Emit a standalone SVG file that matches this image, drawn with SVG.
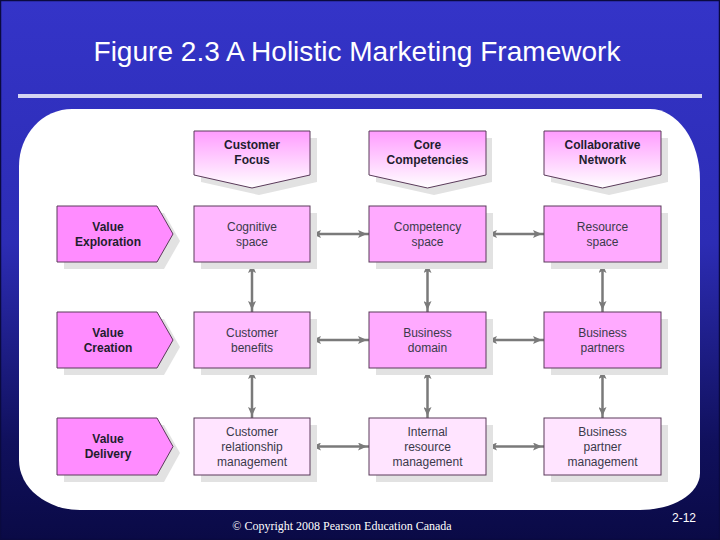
<svg xmlns="http://www.w3.org/2000/svg" width="720" height="540" viewBox="0 0 720 540">
<defs>
<linearGradient id="bg" x1="0" y1="0" x2="0" y2="1">
<stop offset="0" stop-color="#3434c8"/>
<stop offset="0.45" stop-color="#2c2cb4"/>
<stop offset="0.82" stop-color="#10105c"/>
<stop offset="1" stop-color="#0a0a46"/>
</linearGradient>
<linearGradient id="hdr" x1="0" y1="0" x2="0" y2="1">
<stop offset="0" stop-color="#ff9cff"/>
<stop offset="1" stop-color="#ffffff"/>
</linearGradient>
<marker id="ah" viewBox="0 0 12 8" refX="11" refY="4" markerWidth="12" markerHeight="8" markerUnits="userSpaceOnUse" orient="auto-start-reverse">
<path d="M0,0 L9,4 L0,8 L2,4 z" fill="#7a7a7a"/>
</marker>
<style>
.shadow{fill:#e2e2e2}
.box{stroke:#5a3a5a;stroke-width:1}
.lbl{font-family:"Liberation Sans",Arial,sans-serif;font-size:12px;font-weight:bold;fill:#1e1e2e;text-anchor:middle}
.txt{font-family:"Liberation Sans",Arial,sans-serif;font-size:12px;fill:#3a3a4a;text-anchor:middle}
.con line{stroke:#7a7a7a;stroke-width:2.5;marker-start:url(#ah);marker-end:url(#ah)}
</style>
</defs>
<rect x="0" y="0" width="720" height="540" fill="url(#bg)"/>
<rect x="0.5" y="0.5" width="719" height="539" fill="none" stroke="#0a0a40" stroke-width="1.5"/>
<text x="357" y="61" font-family="Liberation Sans,Arial,sans-serif" font-size="28" fill="#ffffff" text-anchor="middle" textLength="527" lengthAdjust="spacingAndGlyphs">Figure 2.3 A Holistic Marketing Framework</text>
<rect x="18" y="94" width="684" height="4" fill="#d4d4f2"/>
<path d="M72,109 L650,109 A50,71 0 0 1 700,180 L700,473 A60,37 0 0 1 640,510 L80,510 A61,50 0 0 1 19,460 L19,166 A53,57 0 0 1 72,109 Z" fill="#ffffff"/>

<g id="connectors" class="con">
<line x1="310" y1="234" x2="369" y2="234"/>
<line x1="486" y1="234" x2="544" y2="234"/>
<line x1="310" y1="340" x2="369" y2="340"/>
<line x1="486" y1="340" x2="544" y2="340"/>
<line x1="310" y1="446.5" x2="369" y2="446.5"/>
<line x1="486" y1="446.5" x2="544" y2="446.5"/>
<line x1="252" y1="262" x2="252" y2="312"/>
<line x1="252" y1="368" x2="252" y2="418"/>
<line x1="427.5" y1="262" x2="427.5" y2="312"/>
<line x1="427.5" y1="368" x2="427.5" y2="418"/>
<line x1="602.5" y1="262" x2="602.5" y2="312"/>
<line x1="602.5" y1="368" x2="602.5" y2="418"/>
</g>

<g id="hdr-customer-focus">
<polygon class="shadow" points="201,138 317,138 317,182 259,195 201,182"/>
<polygon class="box" fill="url(#hdr)" points="194,131 310,131 310,175 252,188 194,175"/>
<text class="lbl" x="252" y="149">Customer</text>
<text class="lbl" x="252" y="164">Focus</text>
</g>
<g id="hdr-core-competencies">
<polygon class="shadow" points="376,138 492,138 492,182 434,195 376,182"/>
<polygon class="box" fill="url(#hdr)" points="369,131 486,131 486,175 427.5,188 369,175"/>
<text class="lbl" x="427.5" y="149">Core</text>
<text class="lbl" x="427.5" y="164">Competencies</text>
</g>
<g id="hdr-collaborative-network">
<polygon class="shadow" points="551,138 668,138 668,182 609,195 551,182"/>
<polygon class="box" fill="url(#hdr)" points="544,131 661,131 661,175 602.5,188 544,175"/>
<text class="lbl" x="602.5" y="149">Collaborative</text>
<text class="lbl" x="602.5" y="164">Network</text>
</g>

<g id="value-exploration">
<polygon class="shadow" points="64,213 164,213 180,241 164,269 64,269"/>
<polygon class="box" fill="#ff8cff" points="57,206 157,206 173,234 157,262 57,262"/>
<text class="lbl" x="108" y="231">Value</text>
<text class="lbl" x="108" y="246">Exploration</text>
</g>
<g id="value-creation">
<polygon class="shadow" points="64,319 164,319 180,347 164,375 64,375"/>
<polygon class="box" fill="#ff8cff" points="57,312 157,312 173,340 157,368 57,368"/>
<text class="lbl" x="108" y="337">Value</text>
<text class="lbl" x="108" y="352">Creation</text>
</g>
<g id="value-delivery">
<polygon class="shadow" points="64,425 164,425 180,453 164,482 64,482"/>
<polygon class="box" fill="#ff8cff" points="57,418 157,418 173,446.5 157,475 57,475"/>
<text class="lbl" x="108" y="443">Value</text>
<text class="lbl" x="108" y="458">Delivery</text>
</g>

<g id="cognitive-space">
<rect class="shadow" x="201" y="213" width="116" height="56"/>
<rect class="box" fill="#ffb8ff" x="194" y="206" width="116" height="56"/>
<text class="txt" x="252" y="231">Cognitive</text>
<text class="txt" x="252" y="246">space</text>
</g>
<g id="competency-space">
<rect class="shadow" x="376" y="213" width="117" height="56"/>
<rect class="box" fill="#ffaaff" x="369" y="206" width="117" height="56"/>
<text class="txt" x="427.5" y="231">Competency</text>
<text class="txt" x="427.5" y="246">space</text>
</g>
<g id="resource-space">
<rect class="shadow" x="551" y="213" width="117" height="56"/>
<rect class="box" fill="#ffaaff" x="544" y="206" width="117" height="56"/>
<text class="txt" x="602.5" y="231">Resource</text>
<text class="txt" x="602.5" y="246">space</text>
</g>

<g id="customer-benefits">
<rect class="shadow" x="201" y="319" width="116" height="56"/>
<rect class="box" fill="#ffbcff" x="194" y="312" width="116" height="56"/>
<text class="txt" x="252" y="337">Customer</text>
<text class="txt" x="252" y="352">benefits</text>
</g>
<g id="business-domain">
<rect class="shadow" x="376" y="319" width="117" height="56"/>
<rect class="box" fill="#ffaaff" x="369" y="312" width="117" height="56"/>
<text class="txt" x="427.5" y="337">Business</text>
<text class="txt" x="427.5" y="352">domain</text>
</g>
<g id="business-partners">
<rect class="shadow" x="551" y="319" width="117" height="56"/>
<rect class="box" fill="#ffaaff" x="544" y="312" width="117" height="56"/>
<text class="txt" x="602.5" y="337">Business</text>
<text class="txt" x="602.5" y="352">partners</text>
</g>

<g id="customer-relationship-management">
<rect class="shadow" x="201" y="425" width="116" height="57"/>
<rect class="box" fill="#ffe4ff" x="194" y="418" width="116" height="57"/>
<text class="txt" x="252" y="436">Customer</text>
<text class="txt" x="252" y="451">relationship</text>
<text class="txt" x="252" y="466">management</text>
</g>
<g id="internal-resource-management">
<rect class="shadow" x="376" y="425" width="117" height="57"/>
<rect class="box" fill="#ffe4ff" x="369" y="418" width="117" height="57"/>
<text class="txt" x="427.5" y="436">Internal</text>
<text class="txt" x="427.5" y="451">resource</text>
<text class="txt" x="427.5" y="466">management</text>
</g>
<g id="business-partner-management">
<rect class="shadow" x="551" y="425" width="117" height="57"/>
<rect class="box" fill="#ffe4ff" x="544" y="418" width="117" height="57"/>
<text class="txt" x="602.5" y="436">Business</text>
<text class="txt" x="602.5" y="451">partner</text>
<text class="txt" x="602.5" y="466">management</text>
</g>

<text x="342" y="530" font-family="Liberation Serif,Times New Roman,serif" font-size="12" fill="#ffffff" text-anchor="middle">© Copyright 2008 Pearson Education Canada</text>
<text x="684" y="522" font-family="Liberation Sans,Arial,sans-serif" font-size="12" fill="#ffffff" text-anchor="middle">2-12</text>
</svg>
